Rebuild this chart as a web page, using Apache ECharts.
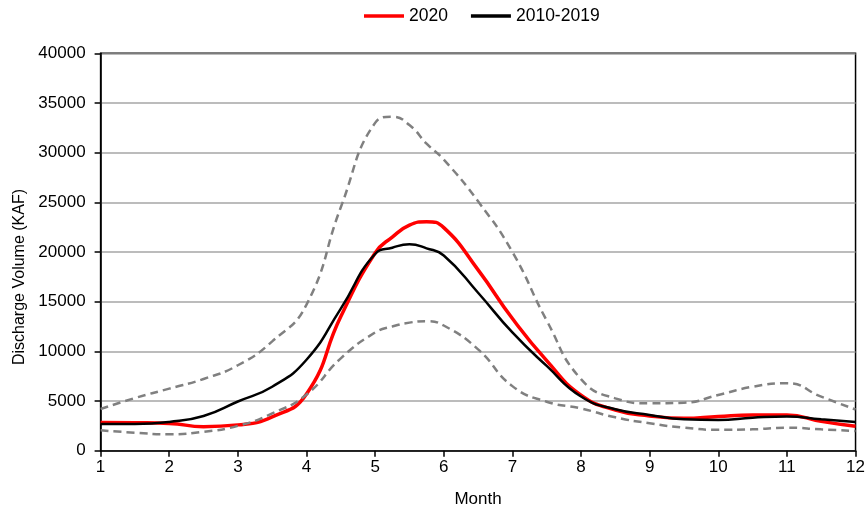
<!DOCTYPE html>
<html><head><meta charset="utf-8">
<script src="https://cdn.jsdelivr.net/npm/echarts@6/dist/echarts.min.js"></script>
<style>html,body{margin:0;padding:0;background:#fff}#c{width:868px;height:514px}</style>
</head><body><div id="c"></div>
<script>
const monthPos = [1, 1.5, 2, 2.5, 3, 3.5, 4, 4.5, 5, 5.25, 5.5, 5.75, 6, 6.5, 7, 7.5, 8, 8.5, 9, 9.5, 10, 10.5, 11, 11.5, 12];
const y2020 =        [2850, 2820, 2750, 2420, 2600, 3400, 5700, 13500, 19900, 21500, 22700, 23050, 22450, 18200, 13300, 9060, 5600, 4100, 3500, 3260, 3450, 3590, 3600, 2950, 2450];
const avg2010_2019 = [2700, 2700, 2900, 3490, 4950, 6440, 9150, 14300, 19800, 20430, 20770, 20370, 19650, 15900, 11900, 8530, 5450, 4170, 3600, 3160, 3100, 3320, 3450, 3160, 2900];
const upperBound =   [4200, 5300, 6250, 7220, 8600, 11000, 14700, 24500, 33000, 33620, 32780, 30900, 29300, 25100, 20000, 13100, 7200, 5270, 4770, 4830, 5610, 6440, 6800, 5440, 4150];
const lowerBound =   [2050, 1810, 1650, 1900, 2500, 3750, 5650, 9300, 11900, 12500, 12890, 13040, 12600, 10200, 6500, 4930, 4250, 3360, 2760, 2320, 2100, 2150, 2320, 2150, 1980];
const seriesNames = ['2020', '2010-2019'];
const yTitle = 'Discharge Volume (KAF)';
const xTitle = 'Month';

const FONT = "'Liberation Sans', Arial, sans-serif";
const pair = arr => monthPos.map((m, i) => [m, arr[i]]);

const chart = echarts.init(document.getElementById('c'), null, {renderer: 'canvas'});
chart.setOption({
  animation: false,
  backgroundColor: '#fff',
  textStyle: {fontFamily: FONT, color: '#000'},
  legend: {
    data: seriesNames,
    top: 7,
    left: 364,
    padding: 0,
    icon: 'rect',
    itemWidth: 40,
    itemHeight: 3.5,
    itemGap: 23,
    textStyle: {fontFamily: FONT, fontSize: 17.5, color: '#000'}
  },
  grid: {left: 100.6, right: 9.7, top: 53.3, bottom: 63.3, show: true, borderColor: '#000', borderWidth: 1.5, containLabel: false},
  xAxis: {
    type: 'value', min: 1, max: 12, interval: 1,
    name: xTitle, nameLocation: 'middle', nameGap: 40,
    nameTextStyle: {fontFamily: FONT, fontSize: 17, color: '#000'},
    axisLine: {show: true, onZero: false, lineStyle: {color: '#000', width: 1.5}},
    axisTick: {show: true, length: 6, lineStyle: {color: '#000', width: 1.5}},
    axisLabel: {fontFamily: FONT, fontSize: 17, color: '#000', margin: 8, formatter: v => String(v)},
    splitLine: {show: false}
  },
  yAxis: {
    type: 'value', min: 0, max: 40000, interval: 5000,
    axisLine: {show: true, lineStyle: {color: '#000', width: 1.5}},
    axisTick: {show: true, length: 6, lineStyle: {color: '#000', width: 1.5}},
    axisLabel: {fontFamily: FONT, fontSize: 17, color: '#000', margin: 15, formatter: v => String(v)},
    splitLine: {show: true, lineStyle: {color: '#a6a6a6', width: 1.5}}
  },
  graphic: [{
    type: 'text', x: 20, y: 277, rotation: Math.PI / 2,
    style: {text: yTitle, fontFamily: FONT, fontSize: 16, fill: '#000', align: 'center', verticalAlign: 'middle'}
  }],
  series: [
    {name: seriesNames[0], type: 'line', data: pair(y2020), smooth: true, symbol: 'none',
     lineStyle: {color: '#ff0000', width: 3.5}, itemStyle: {color: '#ff0000'}, z: 3},
    {name: seriesNames[1], type: 'line', data: pair(avg2010_2019), smooth: true, symbol: 'none',
     lineStyle: {color: '#000000', width: 2.5}, itemStyle: {color: '#000000'}, z: 4},
    {name: 'Upper', type: 'line', data: pair(upperBound), smooth: true, symbol: 'none',
     lineStyle: {color: '#808080', width: 2.5, type: [8, 5]}, itemStyle: {color: '#808080'}, z: 5},
    {name: 'Lower', type: 'line', data: pair(lowerBound), smooth: true, symbol: 'none',
     lineStyle: {color: '#808080', width: 2.5, type: [8, 5]}, itemStyle: {color: '#808080'}, z: 5}
  ]
});
</script></body></html>
